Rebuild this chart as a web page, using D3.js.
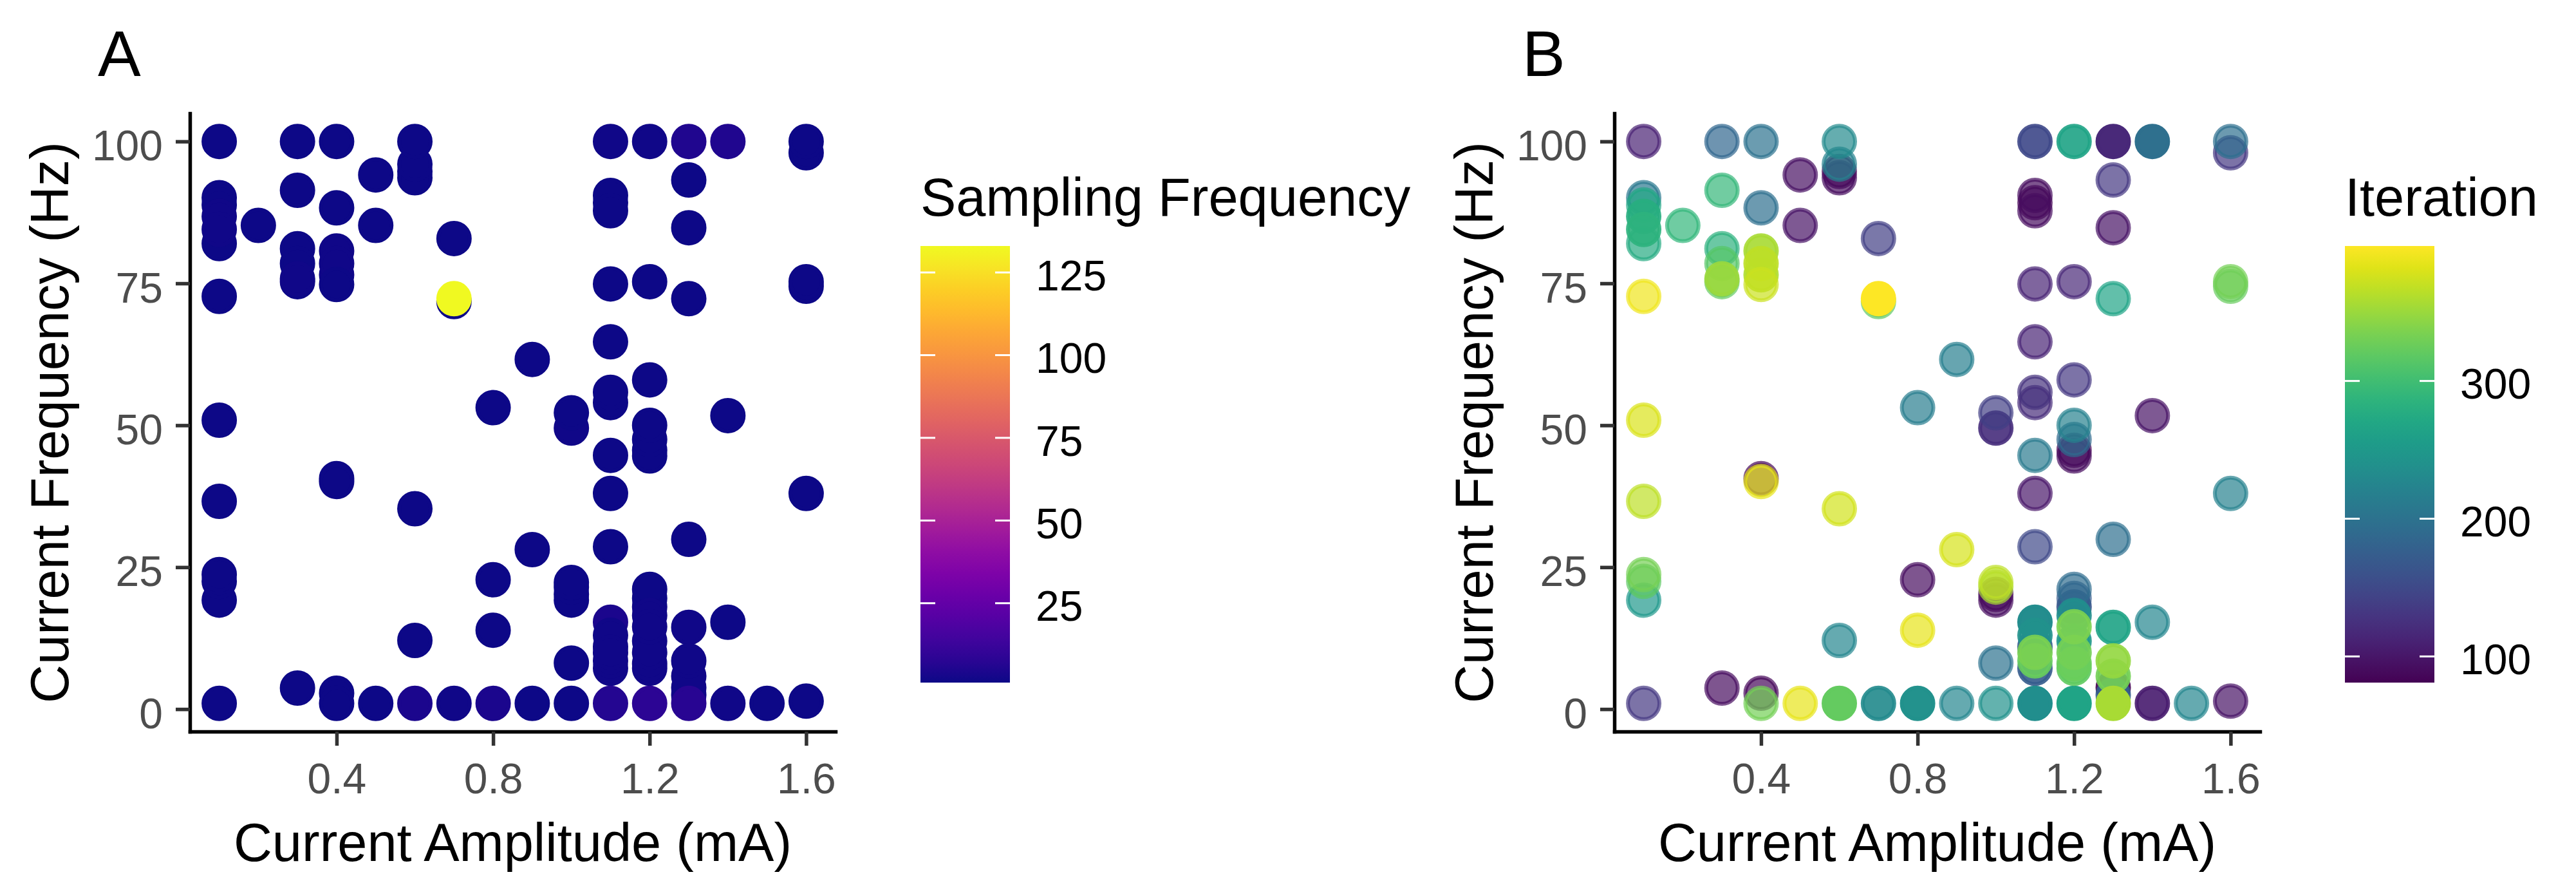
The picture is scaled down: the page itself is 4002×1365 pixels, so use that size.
<!DOCTYPE html>
<html>
<head>
<meta charset="utf-8">
<script src="https://cdn.jsdelivr.net/npm/d3@7"></script>
<style>
  body { margin: 0; background: #fff; }
  text { font-family: "Liberation Sans", Arial, sans-serif; }
</style>
</head>
<body>
<script>
// one entry per sampled parameter pair, grouped by amplitude column
const amplitude = [
  0.1, 0.1, 0.1, 0.1, 0.1, 0.1, 0.1, 0.1, 0.1, 0.1, 0.1, 0.1, 0.1,
  0.2,
  0.3, 0.3, 0.3, 0.3, 0.3, 0.3, 0.3,
  0.4, 0.4, 0.4, 0.4, 0.4, 0.4, 0.4, 0.4, 0.4, 0.4,
  0.5, 0.5, 0.5,
  0.6, 0.6, 0.6, 0.6, 0.6, 0.6, 0.6,
  0.7, 0.7, 0.7, 0.7,
  0.8, 0.8, 0.8, 0.8,
  0.9, 0.9, 0.9,
  1.0, 1.0, 1.0, 1.0, 1.0, 1.0, 1.0, 1.0,
  1.1, 1.1, 1.1, 1.1, 1.1, 1.1, 1.1, 1.1, 1.1, 1.1, 1.1, 1.1, 1.1, 1.1, 1.1, 1.1, 1.1, 1.1,
  1.2, 1.2, 1.2, 1.2, 1.2, 1.2, 1.2, 1.2, 1.2, 1.2, 1.2, 1.2, 1.2, 1.2, 1.2, 1.2, 1.2,
  1.3, 1.3, 1.3, 1.3, 1.3, 1.3, 1.3, 1.3, 1.3, 1.3, 1.3,
  1.4, 1.4, 1.4, 1.4,
  1.5,
  1.6, 1.6, 1.6, 1.6, 1.6, 1.6
];
const frequency = [
  100, 90.1, 88.8, 86.8, 84.5, 82.0, 72.7, 50.9, 36.6, 23.7, 22.5, 19.2, 1.0,
  85.2,
  100, 91.4, 81.1, 78.5, 75.8, 75.3, 3.7,
  100, 88.3, 80.7, 78.5, 76.5, 74.8, 40.6, 40.1, 2.8, 1.0,
  94.1, 85.2, 1.0,
  100, 96.0, 94.7, 93.6, 35.3, 12.1, 1.0,
  82.9, 71.8, 72.3, 1.0,
  53.1, 22.8, 13.9, 1.0,
  61.6, 28.1, 1.0,
  52.2, 49.5, 22.3, 21.5, 20.2, 19.2, 8.1, 1.0,
  100, 90.5, 89.2, 87.8, 74.9, 64.7, 55.8, 54.0, 44.7, 38.0, 28.6, 15.3, 13.0, 11.0, 10.0, 8.5, 7.2, 1.0,
  100, 75.3, 58.0, 50.0, 47.5, 45.6, 44.6, 21.1, 19.5, 18.0, 16.5, 14.5, 12.0, 10.0, 8.0, 7.2, 1.0,
  100, 93.2, 84.8, 72.3, 29.9, 14.4, 8.5, 5.8, 3.8, 2.5, 1.0,
  100, 51.7, 15.3, 1.0,
  1.0,
  100, 98.0, 75.3, 74.5, 38.0, 1.4
];
const samplingFreq = [
  1, 1, 1, 2, 2, 1, 1, 1, 1, 1, 1, 1, 1,
  1,
  1, 1, 1, 1, 2, 1, 1,
  1, 1, 2, 2, 2, 1, 1, 1, 1, 1,
  1, 1, 1,
  1, 1, 1, 1, 1, 1, 4,
  1, 1, 133, 2,
  1, 1, 1, 4,
  1, 1, 1,
  1, 2, 1, 1, 1, 1, 1, 1,
  2, 1, 1, 1, 1, 1, 1, 1, 1, 1, 1, 4, 2, 2, 2, 2, 2, 6,
  2, 1, 1, 1, 1, 1, 1, 1, 1, 2, 2, 2, 2, 2, 2, 2, 8,
  5, 1, 1, 1, 1, 2, 2, 2, 2, 2, 7,
  5, 1, 1, 2,
  1,
  1, 1, 1, 1, 1, 1
];
const iteration = [
  110, 208, 268, 280, 285, 275, 390, 380, 366, 332, 318, 250, 132,
  290,
  185, 292, 284, 314, 350, 322, 92,
  200, 196, 356, 366, 360, 372, 86, 386, 86, 330,
  94, 96, 386,
  232, 222, 81, 90, 376, 226, 322,
  140, 318, 398, 232,
  214, 92, 386, 240,
  216, 378, 226,
  140, 122, 366, 358, 84, 92, 200, 240,
  150, 90, 82, 92, 112, 112, 126, 120, 210, 100, 150, 234, 240, 176, 334, 324, 172, 236,
  266, 116, 132, 220, 190, 82, 90, 192, 172, 166, 236, 336, 250, 330, 326, 320, 266,
  116, 132, 96, 266, 196, 266, 346, 330, 82, 176, 356,
  196, 96, 226, 106,
  226,
  196, 132, 330, 324, 220, 96
];

const xTicks = [0.4, 0.8, 1.2, 1.6];
const yTicks = [0, 25, 50, 75, 100];
const sampTicks = [25, 50, 75, 100, 125];
const iterTicks = [100, 200, 300];

const width = 4002, height = 1365;
const plotTop = 176, plotBottom = 1136, plotW = 1003;
const legTop = 382, legBottom = 1060, legW = 139;

const svg = d3.select("body").append("svg")
  .attr("width", width).attr("height", height)
  .style("background", "#fff");

const expand = ([lo, hi]) => { const p = (hi - lo) * 0.05; return [lo - p, hi + p]; };

const points = amplitude
  .map((a, i) => ({ a, f: frequency[i], s: samplingFreq[i], it: iteration[i] }))
  .sort((p, q) => p.it - q.it);

function drawPanel({ left, tag, key, interpolator, alpha, title, ticks, gradId }) {
  const x = d3.scaleLinear().domain(expand(d3.extent(points, d => d.a))).range([left, left + plotW]);
  const y = d3.scaleLinear().domain(expand(d3.extent(points, d => d.f))).range([plotBottom, plotTop]);
  const color = d3.scaleSequential(interpolator).domain(d3.extent(points, d => d[key]));
  // repeated samples stack on the same spot, so translucent marks get denser
  const opacity = d => 1 - Math.pow(1 - alpha, d.s);

  const g = svg.append("g");

  g.append("g").selectAll("circle")
    .data(points)
    .join("circle")
    .attr("cx", d => x(d.a))
    .attr("cy", d => y(d.f))
    .attr("r", 24.5)
    .attr("fill", d => color(d[key]))
    .attr("stroke", d => color(d[key]))
    .attr("stroke-width", 6)
    .attr("fill-opacity", opacity)
    .attr("stroke-opacity", opacity);

  const yAxis = g.append("g")
    .attr("transform", `translate(${left},0)`)
    .call(d3.axisLeft(y).tickValues(yTicks).tickSize(22).tickSizeOuter(0).tickPadding(20));
  const xAxis = g.append("g")
    .attr("transform", `translate(0,${plotBottom})`)
    .call(d3.axisBottom(x).tickValues(xTicks).tickSize(22).tickSizeOuter(0).tickPadding(27)
      .tickFormat(d3.format(".1f")));

  for (const ax of [yAxis, xAxis]) {
    ax.select(".domain").attr("stroke", "#000").attr("stroke-width", 5.5).attr("stroke-linecap", "square");
    ax.selectAll(".tick line").attr("stroke", "#333").attr("stroke-width", 5.5);
    ax.selectAll(".tick text")
      .attr("fill", "#4d4d4d")
      .style("font-size", "66px")
      .style("font-family", "'Liberation Sans', Arial, sans-serif");
  }
  yAxis.selectAll(".tick text").attr("dy", "0.44em");

  g.append("text")
    .attr("x", left + plotW / 2).attr("y", 1337)
    .attr("text-anchor", "middle")
    .style("font-size", "83px")
    .text("Current Amplitude (mA)");

  g.append("text")
    .attr("transform", `translate(${left - 189},${(plotTop + plotBottom) / 2}) rotate(-90)`)
    .attr("text-anchor", "middle")
    .style("font-size", "83px")
    .text("Current Frequency (Hz)");

  g.append("text")
    .attr("x", left - 143).attr("y", 118)
    .style("font-size", "100px")
    .text(tag);

  // colour bar
  const lx = left + 1135;
  const grad = svg.append("defs").append("linearGradient")
    .attr("id", gradId).attr("x1", 0).attr("y1", 1).attr("x2", 0).attr("y2", 0);
  d3.range(0, 1.0001, 0.05).forEach(t => {
    grad.append("stop").attr("offset", t).attr("stop-color", interpolator(t));
  });
  const ly = d3.scaleLinear().domain(color.domain()).range([legBottom, legTop]);

  g.append("text")
    .attr("x", lx).attr("y", 335)
    .style("font-size", "83px")
    .text(title);

  g.append("rect")
    .attr("x", lx).attr("y", legTop)
    .attr("width", legW).attr("height", legBottom - legTop)
    .attr("fill", `url(#${gradId})`);

  const lt = g.append("g").selectAll("g").data(ticks).join("g")
    .attr("transform", d => `translate(0,${ly(d)})`);
  lt.append("line").attr("x1", lx).attr("x2", lx + 23)
    .attr("stroke", "#fff").attr("stroke-width", 3);
  lt.append("line").attr("x1", lx + legW - 23).attr("x2", lx + legW)
    .attr("stroke", "#fff").attr("stroke-width", 3);
  lt.append("text")
    .attr("x", lx + legW + 40).attr("dy", "0.42em")
    .style("font-size", "66px")
    .text(d => d);
}

drawPanel({
  left: 295, tag: "A", key: "s", interpolator: d3.interpolatePlasma, alpha: 1,
  title: "Sampling Frequency", ticks: sampTicks, gradId: "gradA"
});
drawPanel({
  left: 2508, tag: "B", key: "it", interpolator: d3.interpolateViridis, alpha: 0.7,
  title: "Iteration", ticks: iterTicks, gradId: "gradB"
});
</script>
</body>
</html>
